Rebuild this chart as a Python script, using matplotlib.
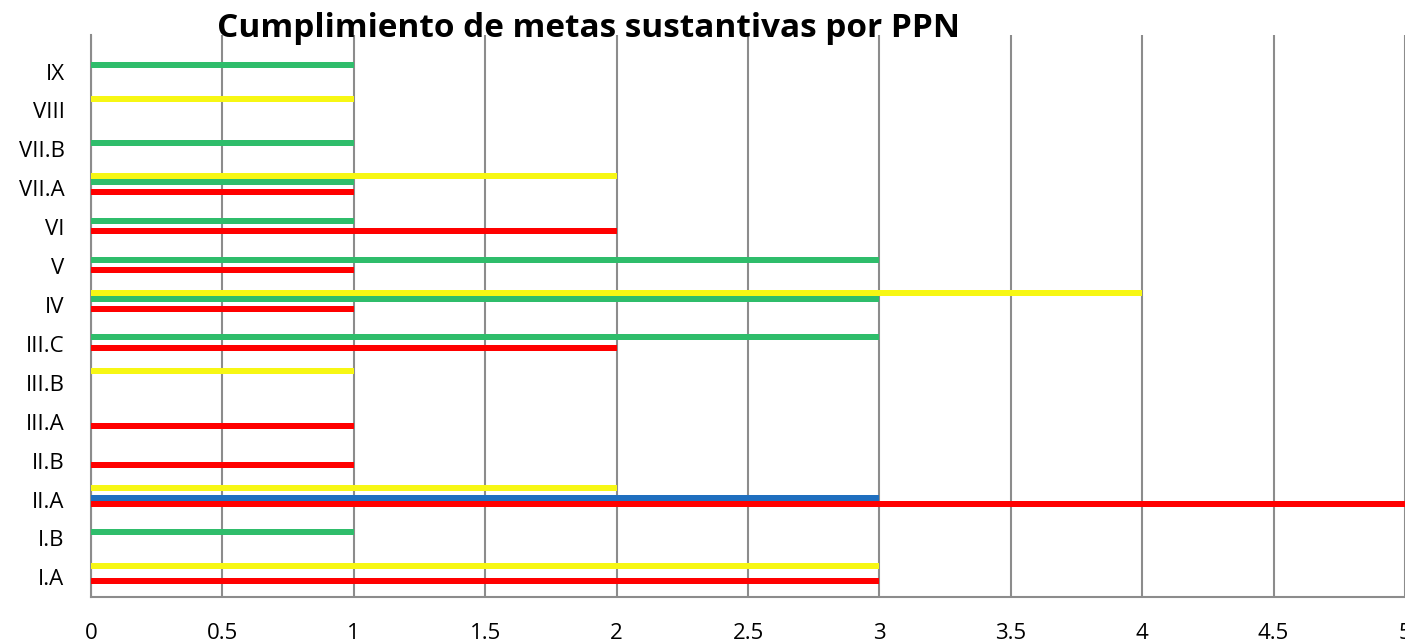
import numpy as np
import matplotlib.pyplot as plt

# Data (bottom to top, as in the chart)
categories = ["I.A", "I.B", "II.A", "II.B", "III.A", "III.B", "III.C",
              "IV", "V", "VI", "VII.A", "VII.B", "VIII", "IX"]
red_vals    = [3, 0, 5, 1, 1, 0, 2, 1, 1, 2, 1, 0, 0, 0]
blue_vals   = [0, 0, 3, 0, 0, 0, 0, 0, 0, 0, 0, 0, 0, 0]
green_vals  = [0, 1, 0, 0, 0, 0, 3, 3, 3, 1, 1, 1, 0, 1]
yellow_vals = [3, 0, 2, 0, 0, 1, 0, 4, 0, 0, 2, 0, 1, 0]
x_ticks = [0, 0.5, 1, 1.5, 2, 2.5, 3, 3.5, 4, 4.5, 5]
x_tick_labels = ["0", "0.5", "1", "1.5", "2", "2.5", "3", "3.5", "4", "4.5", "5"]

series = [
    (red_vals, "#ff0000"),
    (blue_vals, "#1f6fbf"),
    (green_vals, "#2fbd6b"),
    (yellow_vals, "#f7f714"),
]

plt.rcParams['font.family'] = ['Open Sans', 'DejaVu Sans']

fig = plt.figure(figsize=(14.05, 6.44), dpi=100)
ax = fig.add_axes([91 / 1405, 47 / 644, 1314 / 1405, 562 / 644])

y = np.arange(len(categories))
step = 0.136
for i, (vals, col) in enumerate(series):
    ax.barh(y + (i - 1.5) * step, vals, height=0.155, color=col,
            edgecolor='none', zorder=3 + i)

ax.set_xlim(0, 5)
ax.set_ylim(-0.604, 13.84)
ax.set_xticks(x_ticks)
ax.set_xticklabels(x_tick_labels, fontsize=16)
ax.set_yticks(y - 0.1)
ax.set_yticklabels(categories, fontsize=16)
ax.tick_params(axis='both', length=0)
ax.tick_params(axis='x', pad=19)
ax.tick_params(axis='y', pad=19)

ax.grid(axis='x', color='#8c8c8c', linewidth=1.5, zorder=1)
ax.grid(axis='y', visible=False)
for side in ['top', 'right']:
    ax.spines[side].set_visible(False)
ax.spines['left'].set_color('#8c8c8c')
ax.spines['left'].set_linewidth(1.5)
ax.spines['bottom'].set_color('#8c8c8c')
ax.spines['bottom'].set_linewidth(1.5)

fig.text(0.419, 0.955, "Cumplimiento de metas sustantivas por PPN",
         ha='center', va='center', fontsize=24, fontweight='bold')

fig.savefig("out.png", dpi=100)
